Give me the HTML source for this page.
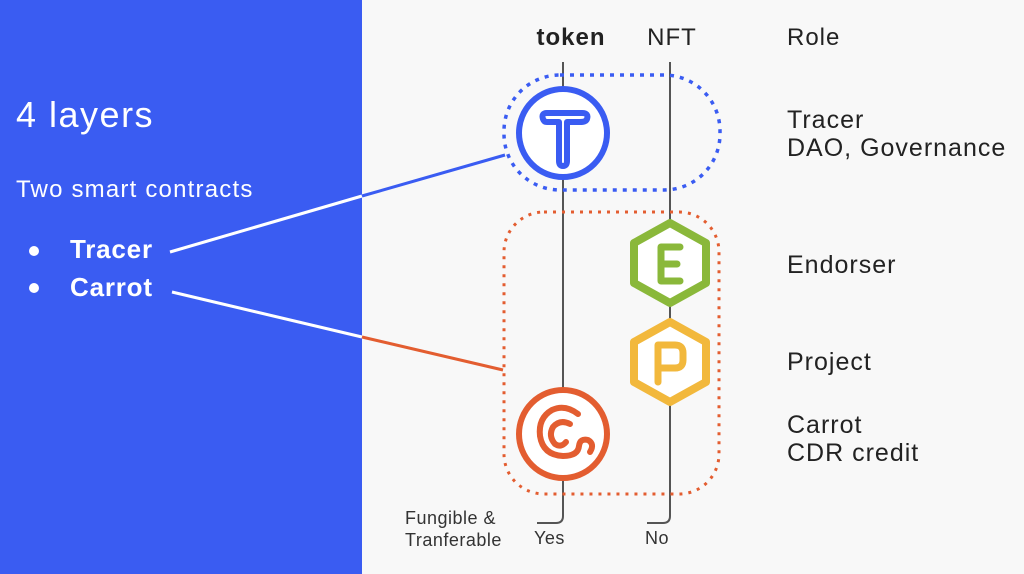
<!DOCTYPE html>
<html><head><style>
body{margin:0;width:1024px;height:574px;overflow:hidden;background:#f8f8f8;font-family:"Liberation Sans",sans-serif}
</style></head><body>
<svg width="1024" height="574" viewBox="0 0 1024 574" xmlns="http://www.w3.org/2000/svg" style="position:absolute;left:0;top:0">
<rect x="0" y="0" width="362" height="574" fill="#3a5cf2"/>
<text x="16" y="127" font-size="36" fill="#fff" letter-spacing="1.5">4 layers</text>
<text x="16" y="197" font-size="24" fill="#fff" letter-spacing="1.2">Two smart contracts</text>
<circle cx="34" cy="251" r="5" fill="#fff"/>
<circle cx="34" cy="288" r="5" fill="#fff"/>
<text x="70" y="258" font-size="26" font-weight="bold" fill="#fff" letter-spacing="0.8">Tracer</text>
<text x="70" y="296" font-size="26" font-weight="bold" fill="#fff" letter-spacing="0.8">Carrot</text>
<line x1="170" y1="252" x2="362" y2="196" stroke="#fff" stroke-width="3"/>
<line x1="362" y1="196" x2="505" y2="155" stroke="#3a5cf2" stroke-width="3"/>
<line x1="172" y1="292" x2="362" y2="337" stroke="#fff" stroke-width="3"/>
<line x1="362" y1="337" x2="503" y2="370" stroke="#e35d30" stroke-width="3"/>
<text x="571" y="45" font-size="24" font-weight="bold" fill="#222" text-anchor="middle" letter-spacing="1">token</text>
<text x="672" y="45" font-size="24" fill="#222" text-anchor="middle" letter-spacing="1">NFT</text>
<text x="787" y="45" font-size="24" fill="#222" letter-spacing="1">Role</text>
<path d="M563 62 V516 Q563 523 556 523 H537" stroke="#555" stroke-width="2" fill="none"/>
<path d="M670 62 V516 Q670 523 663 523 H647" stroke="#555" stroke-width="2" fill="none"/>
<rect x="504" y="75" width="216" height="115" rx="56" fill="none" stroke="#3a5cf2" stroke-width="3.5" stroke-dasharray="4 6"/>
<rect x="504" y="212" width="215" height="282" rx="40" fill="none" stroke="#e35d30" stroke-width="3" stroke-dasharray="3 6"/>
<circle cx="563" cy="133" r="44" fill="#fff" stroke="#3a5cf2" stroke-width="6"/>
<path d="M543 119 Q541 113 547 113 H582 Q589 113 587 119 Q586 122 580 122 H567 V161 Q567 166 563 166 Q559 166 559 161 V122 H547 Q544 122 543 119" fill="none" stroke="#3a5cf2" stroke-width="6" stroke-linejoin="round"/>
<polygon points="670,223 706,243 706,283 670,303 634,283 634,243" fill="#fff" stroke="#8ab83a" stroke-width="8" stroke-linejoin="round"/>
<path d="M680 247 H661 V281 H680 M661 264 H677" fill="none" stroke="#8ab83a" stroke-width="7" stroke-linecap="round" stroke-linejoin="round"/>
<polygon points="670,322 706,342 706,382 670,402 634,382 634,342" fill="#fff" stroke="#f2b83c" stroke-width="8" stroke-linejoin="round"/>
<path d="M658 382 V345 H675 Q683 345 683 353 V360 Q683 368 675 368 H658" fill="none" stroke="#f2b83c" stroke-width="7" stroke-linecap="round" stroke-linejoin="round"/>
<circle cx="563" cy="434" r="44" fill="#fff" stroke="#e35d30" stroke-width="6"/>
<path d="M578 414 Q565 404 552 410 Q538 418 540 436 Q543 455 563 456 Q578 456 579 446 Q580 438 588 440 Q595 444 590 452" fill="none" stroke="#e35d30" stroke-width="6" stroke-linecap="round"/>
<path d="M570 424 Q560 419 553 427 Q548 436 555 444 Q561 448 566 442" fill="none" stroke="#e35d30" stroke-width="6" stroke-linecap="round"/>
<g font-size="25" fill="#222" letter-spacing="1">
<text x="787" y="128">Tracer</text>
<text x="787" y="156">DAO, Governance</text>
<text x="787" y="273">Endorser</text>
<text x="787" y="370">Project</text>
<text x="787" y="433">Carrot</text>
<text x="787" y="461">CDR credit</text>
</g>
<g font-size="18" fill="#333" letter-spacing="0.5">
<text x="405" y="524">Fungible &amp;</text>
<text x="405" y="546">Tranferable</text>
<text x="534" y="544">Yes</text>
<text x="645" y="544">No</text>
</g>
</svg>
</body></html>
